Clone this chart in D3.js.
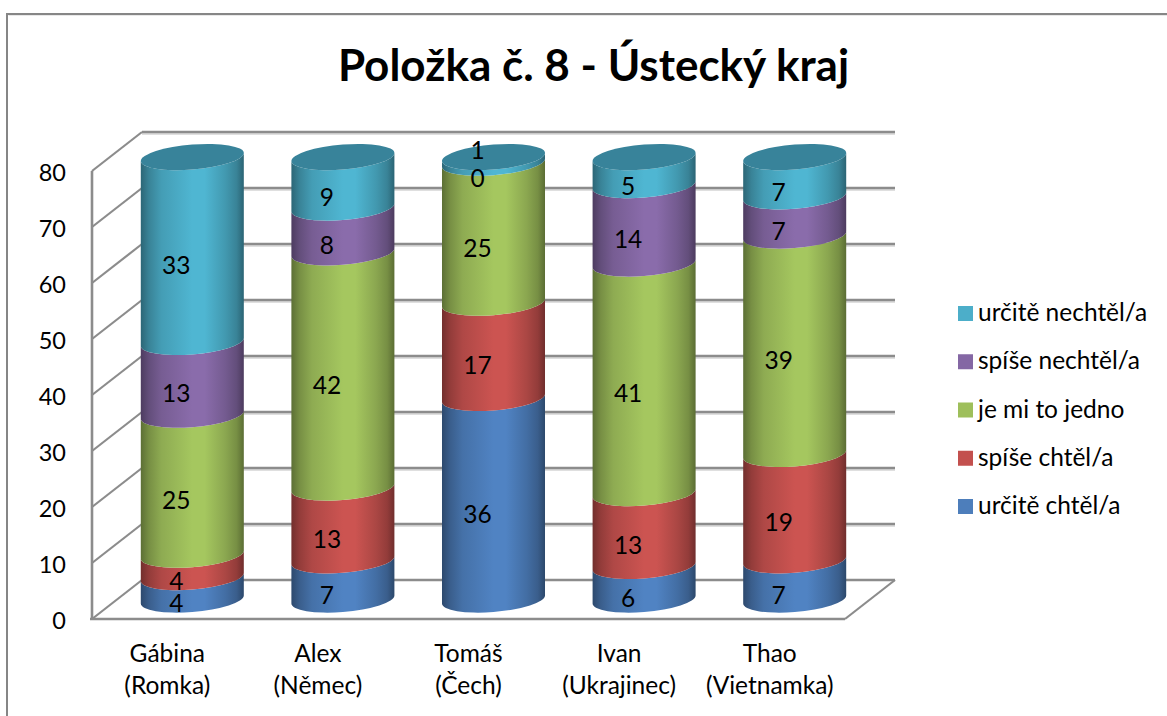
<!DOCTYPE html>
<html><head><meta charset="utf-8">
<script src="https://cdn.jsdelivr.net/npm/d3@7"></script>
<style>html,body{margin:0;background:#fff}svg{display:block}text{font-family:Lato,sans-serif;fill:#000}</style>
</head><body><svg id="c" width="1167" height="716"></svg>
<script>
const title = "Položka č. 8 - Ústecký kraj";
const categories = ["Gábina|(Romka)","Alex|(Němec)","Tomáš|(Čech)","Ivan|(Ukrajinec)","Thao|(Vietnamka)"];
const seriesNames = ["určitě chtěl/a","spíše chtěl/a","je mi to jedno","spíše nechtěl/a","určitě nechtěl/a"];
const urciteChtel   = [4,7,36,6,7];
const spiseChtel    = [4,13,17,13,19];
const jeMiToJedno   = [25,42,25,41,39];
const spiseNechtel  = [13,8,0,14,7];
const urciteNechtel = [33,9,1,5,7];
const seriesValues = [urciteChtel,spiseChtel,jeMiToJedno,spiseNechtel,urciteNechtel];
const seriesColors = ["#5083c3","#cc5451","#a5c75f","#8a6cab","#4fb6d2"];
const yTicks = [0,10,20,30,40,50,60,70,80];

const svg = d3.select("#c"), defs = svg.append("defs");
const M = {l:92, r:845, t:171, b:619, dx:50, dy:39};
const y = d3.scaleLinear().domain([0,80]).range([M.b,M.t]);
const x = d3.scaleBand().domain(categories).range([M.l,M.r]).paddingInner(.316).paddingOuter(.158);
const rx = x.bandwidth()/2, ry = 12.5, shear = 4/rx, offX = 25, offY = 19.5;
const GRID = "#8c8c8c";
const FS = 24.5;

// frame
svg.append("path").attr("d","M7,716V14H1167").attr("fill","none").attr("stroke","#868686").attr("stroke-width",2);
svg.append("path").attr("d","M8.5,15.5H1167").attr("stroke","#e8e8e8").attr("fill","none");

// title
svg.append("text").attr("x",593.5).attr("y",81).attr("text-anchor","middle")
  .attr("font-size",44).attr("font-weight",700).text(title);

// walls + grid
const g = svg.append("g").attr("fill","none");
yTicks.forEach(t=>{
  if(t>0){ g.append("line").attr("x1",M.l+M.dx).attr("x2",M.r+M.dx).attr("y1",y(t)-M.dy+2).attr("y2",y(t)-M.dy+2).attr("stroke","#d4d4d4").attr("stroke-width",1.5);}
  g.append("line").attr("x1",M.l+M.dx).attr("x2",M.r+M.dx).attr("y1",y(t)-M.dy).attr("y2",y(t)-M.dy).attr("stroke",GRID).attr("stroke-width",2.4);
  g.append("line").attr("x1",M.l).attr("x2",M.l+M.dx).attr("y1",y(t)).attr("y2",y(t)-M.dy).attr("stroke",GRID).attr("stroke-width",2.2);
});
g.append("line").attr("x1",M.l).attr("x2",M.l).attr("y1",M.t).attr("y2",M.b).attr("stroke",GRID).attr("stroke-width",2.6);
g.append("line").attr("x1",M.l-2).attr("x2",M.r).attr("y1",M.b).attr("y2",M.b).attr("stroke",GRID).attr("stroke-width",2.6);
g.append("line").attr("x1",M.r).attr("x2",M.r+M.dx).attr("y1",M.b).attr("y2",M.b-M.dy).attr("stroke",GRID).attr("stroke-width",2.2);

// gradients
const shade = [[0,.56],[.08,.72],[.2,.86],[.5,1],[.62,1],[.82,.84],[.93,.72],[1,.55]];
seriesColors.forEach((c,i)=>{
  const gr = defs.append("linearGradient").attr("id","g"+i);
  shade.forEach(([o,k])=>{
    const col = d3.rgb(c);
    gr.append("stop").attr("offset",o).attr("stop-color",d3.rgb(col.r*k,col.g*k,col.b*k).formatHex());
  });
});

// cylinders
const stacked = d3.stack().keys(d3.range(5)).value((d,k)=>d[k])(categories.map((_,i)=>seriesValues.map(s=>s[i])));
const seg = h => `M${-rx},0A${rx},${ry} 0 0 0 ${rx},0L${rx},${-h}A${rx},${ry} 0 0 1 ${-rx},${-h}Z`;
const tf = (c,v) => `matrix(1,${-shear},0,1,${x(c)+rx+offX},${y(v)-offY})`;
const bars = svg.append("g");
stacked.forEach((layer,i)=>{
  bars.append("g").attr("fill",`url(#g${i})`).selectAll("path").data(layer).join("path")
    .attr("transform",(d,j)=>tf(categories[j],d[0]))
    .attr("d",d=>seg(y(d[0])-y(d[1])));
});
bars.append("g").selectAll("ellipse").data(categories).join("ellipse")
  .attr("rx",rx).attr("ry",ry).attr("fill","#38839a")
  .attr("transform",(c,j)=>tf(c,stacked[4][j][1]));

// data labels
const labels = svg.append("g").attr("font-size",FS).attr("text-anchor","middle");
stacked.forEach(layer=>{
  labels.selectAll(null).data(layer).join("text")
    .attr("x",(d,j)=>x(categories[j])+rx+9)
    .attr("y",d=>{
      const v=d[1]-d[0], mid=y((d[0]+d[1])/2)-offY+14.5+9.5;
      return v===1 ? mid-25 : mid;
    })
    .text(d=>d[1]-d[0]);
});

// axes
const ya = svg.append("g").attr("transform",`translate(${M.l-26},1)`)
  .call(d3.axisLeft(y).tickValues(yTicks).tickSize(0).tickPadding(0).tickFormat(d3.format("d")));
ya.select(".domain").remove();
ya.selectAll("text").attr("font-size",23.5).attr("dy",".36em").style("font-family","Lato").attr("fill","#000");

const xa = svg.append("g").attr("transform",`translate(0,${M.b})`)
  .call(d3.axisBottom(x).tickSize(0).tickFormat(""));
xa.select(".domain").remove();
xa.selectAll(".tick").each(function(c){
  const t = d3.select(this).select("text").attr("y",0).attr("dy",null).attr("font-size",FS).style("font-family","Lato").attr("fill","#000");
  c.split("|").forEach((s,i)=>t.append("tspan").attr("x",0).attr("y",43+i*32).text(s));
});

// legend
const ly = d3.scalePoint().domain(d3.range(5)).range([506,313]);
const lg = svg.append("g");
seriesNames.forEach((n,i)=>{
  lg.append("rect").attr("x",958).attr("y",ly(i)-7).attr("width",15).attr("height",15).attr("fill",d3.rgb(seriesColors[i]).darker(.12));
  lg.append("text").attr("x",978).attr("y",ly(i)+8).attr("font-size",FS).text(n);
});
</script></body></html>
